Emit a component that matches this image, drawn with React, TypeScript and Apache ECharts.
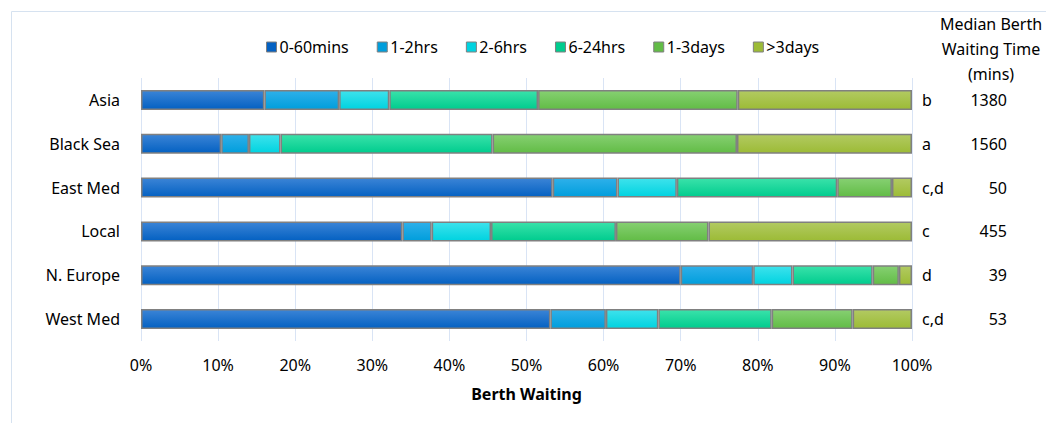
import React, { useEffect, useRef } from "react";
import * as echarts from "echarts";

const categories = ["Asia", "Black Sea", "East Med", "Local", "N. Europe", "West Med"];
const seriesNames = ["0-60mins", "1-2hrs", "2-6hrs", "6-24hrs", "1-3days", ">3days"];
const v0to60 = [16.0, 10.4, 53.4, 33.9, 70.0, 53.1];
const v1to2h = [9.7, 3.6, 8.4, 3.8, 9.4, 7.2];
const v2to6h = [6.5, 4.1, 7.7, 7.7, 5.1, 6.8];
const v6to24h = [19.3, 27.5, 20.8, 16.2, 10.4, 14.7];
const v1to3d = [25.9, 31.7, 7.1, 12.0, 3.4, 10.5];
const vOver3d = [22.6, 22.7, 2.6, 26.4, 1.7, 7.7];
const groupLetters = ["b", "a", "c,d", "c", "d", "c,d"];
const medianMins = ["1380", "1560", "50", "455", "39", "53"];
const xTicks = [0, 10, 20, 30, 40, 50, 60, 70, 80, 90, 100];

const colorPairs: [string, string][] = [
  ["#3b84d6", "#0461c2"],
  ["#2eb0ea", "#009edc"],
  ["#3ee2ec", "#00d3e0"],
  ["#3ae2aa", "#00cc8e"],
  ["#86d072", "#62bc46"],
  ["#b2ca62", "#9cbb36"],
];

const FONT = "Noto Sans";
const FS = 16;

export default function App() {
  const ref = useRef<HTMLDivElement>(null);
  useEffect(() => {
    if (!ref.current) return;
    const chart = echarts.init(ref.current, null, { renderer: "svg" });
    const values = [v0to60, v1to2h, v2to6h, v6to24h, v1to3d, vOver3d];
    const series = seriesNames.map((name, i) => ({
      name,
      type: "bar",
      stack: "total",
      barWidth: 20,
      data: values[i],
      itemStyle: {
        color: new echarts.graphic.LinearGradient(0, 0, 0, 1, [
          { offset: 0, color: colorPairs[i][0] },
          { offset: 1, color: colorPairs[i][1] },
        ]),
        borderColor: "#808080",
        borderWidth: 1.5,
      },
    }));
    chart.setOption({
      animation: false,
      textStyle: { fontFamily: FONT },
      color: colorPairs.map((c) => c[1]),
      legend: {
        data: seriesNames.map((n, i) => ({
          name: n,
          itemStyle: { color: colorPairs[i][1], borderColor: "#808080", borderWidth: 1 },
        })),
        left: 261,
        top: 34,
        icon: "rect",
        itemWidth: 10,
        itemHeight: 10,
        itemGap: 28,
        textStyle: { fontFamily: FONT, fontSize: FS, color: "#000", padding: [0, 0, 0, -2] },
      },
      grid: { left: 141, right: 134, top: 78, bottom: 82, containLabel: false },
      xAxis: {
        type: "value",
        min: 0,
        max: 100,
        interval: 10,
        name: "Berth Waiting",
        nameLocation: "middle",
        nameGap: 45,
        nameTextStyle: { fontFamily: FONT, fontWeight: "bold", fontSize: 16, color: "#000" },
        axisLabel: {
          formatter: (v: number) => (xTicks.includes(v) ? v + "%" : ""),
          fontFamily: FONT,
          fontSize: FS,
          color: "#000",
          margin: 16,
        },
        axisLine: { show: false },
        axisTick: { show: false },
        splitLine: { show: true, lineStyle: { color: "#d9e4f5", width: 1 } },
      },
      yAxis: [
        {
          type: "category",
          data: categories,
          inverse: true,
          axisLine: { show: false },
          axisTick: { show: false },
          axisLabel: { fontFamily: FONT, fontSize: FS, color: "#000", margin: 21 },
        },
        {
          type: "category",
          data: groupLetters,
          inverse: true,
          position: "right",
          axisLine: { show: false },
          axisTick: { show: false },
          axisLabel: { fontFamily: FONT, fontSize: FS, color: "#000", margin: 10, align: "left" },
        },
        {
          type: "category",
          data: medianMins,
          inverse: true,
          position: "right",
          offset: 0,
          axisLine: { show: false },
          axisTick: { show: false },
          axisLabel: { fontFamily: FONT, fontSize: FS, color: "#000", margin: 95, align: "right" },
        },
      ],
      series,
      graphic: [
        {
          type: "polyline",
          shape: { points: [[11.5, 423], [11.5, 11.5], [1046, 11.5]] },
          style: { stroke: "#d6e2f0", fill: "none", lineWidth: 1 },
          silent: true,
        },
        {
          type: "text",
          x: 991,
          y: 11,
          style: {
            text: "Median Berth\nWaiting Time\n(mins)",
            font: `${FS}px "${FONT}"`,
            fill: "#000",
            align: "center",
            verticalAlign: "top",
            lineHeight: 25,
          },
        },
      ],
    });
    return () => chart.dispose();
  }, []);
  return (
    <div
      ref={ref}
      style={{ position: "fixed", left: 0, top: 0, width: 1046, height: 423, background: "#fff" }}
    />
  );
}
